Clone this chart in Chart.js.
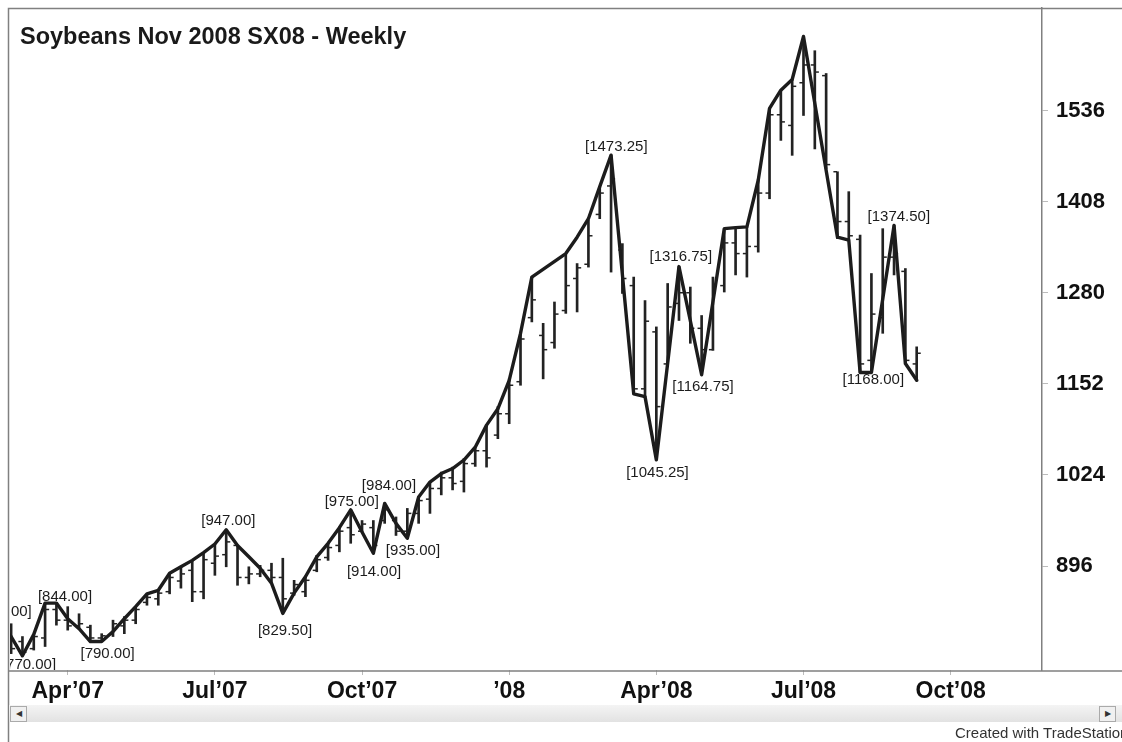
<!DOCTYPE html>
<html>
<head>
<meta charset="utf-8">
<script src="https://cdn.jsdelivr.net/npm/chart.js@4.4.1/dist/chart.umd.min.js"></script>
<style>
  html, body { margin: 0; padding: 0; background: #fff; }
  #wrap { position: relative; width: 1122px; height: 742px; overflow: hidden; font-family: "Liberation Sans", Arial, sans-serif; }
  #c { position: absolute; left: 0; top: 0; }
  #title { position: absolute; left: 20px; top: 23px; font-weight: bold; font-size: 23.5px; color: #1a1a1a; white-space: nowrap; }
  #scroll { position: absolute; left: 9px; right: 0; top: 705px; height: 17px; background: linear-gradient(#f4f4f4, #e2e2e2); }
  .btn { position: absolute; top: 1px; width: 15px; height: 14px; border: 1px solid #aaa; background: #f0f0f0; font-size: 8px; line-height: 14px; text-align: center; color: #333; }
  #credit { position: absolute; left: 955px; top: 724px; font-size: 15px; color: #333; white-space: nowrap; }
</style>
</head>
<body>
<div id="wrap">
  <canvas id="c" width="1122" height="742"></canvas>
  <div id="title">Soybeans Nov 2008 SX08 - Weekly</div>
  <div id="scroll"><div class="btn" style="left:1px">&#9664;</div><div class="btn" style="right:6px">&#9654;</div></div>
  <div id="credit">Created with TradeStation</div>
</div>
<script>
// weekly bars, week 0 = last week of Feb 2007
const barHigh = [813, 815, 797, 800, 844, 844, 839, 829, 813, 801, 820, 825, 839, 857, 862, 886, 895, 904, 915, 927, 947,
  925, 895, 897, 900, 907, 876, 881, 911, 928, 951, 975, 960, 960, 984, 965, 977, 993, 1014, 1028, 1035, 1047,
  1062, 1094, 1120, 1159, 1223, 1302, 1237, 1267, 1335, 1321, 1382, 1429, 1473.25, 1349, 1302, 1269, 1232, 1293,
  1316.75, 1288, 1248, 1302, 1370, 1370, 1372.5, 1438, 1539, 1564.5, 1579.5, 1640, 1620, 1588, 1450, 1422, 1361,
  1307, 1370, 1374.5, 1314, 1204];
const barLow = [790, 773, 770, 778, 783, 813, 806, 808, 790, 790, 797, 801, 815, 841, 841, 857, 865, 846, 850, 883, 895,
  869, 871, 881, 872, 829.5, 855, 853, 888, 904, 916, 928, 944, 914, 956, 939, 935, 956, 970, 996, 1003, 1000,
  1036, 1035, 1075, 1096, 1150, 1239, 1159, 1202, 1251, 1253, 1316, 1384, 1309, 1279, 1138, 1134, 1045.25, 1176,
  1241, 1209, 1164.75, 1199, 1281, 1305, 1302, 1337, 1412, 1494, 1473, 1529, 1482, 1454.5, 1356, 1354, 1168,
  1168, 1223, 1305, 1180.5, 1157];
const barOpen = [795, 808, 790, 780, 795, 835, 820, 812, 810, 795, 800, 812, 820, 845, 850, 860, 875, 890, 860, 900, 912,
  925, 880, 885, 890, 880, 858, 860, 890, 908, 925, 950, 945, 950, 960, 960, 945, 970, 990, 1005, 1020, 1015,
  1040, 1058, 1080, 1110, 1155, 1245, 1220, 1210, 1255, 1300, 1320, 1390, 1430, 1340, 1290, 1145, 1225, 1180,
  1265, 1280, 1230, 1200, 1290, 1350, 1335, 1345, 1420, 1530, 1515, 1575, 1600, 1585, 1450, 1380, 1355,
  1185, 1245, 1330, 1310, 1180];
const barClose = [805, 780, 775, 797, 835, 820, 812, 815, 795, 798, 815, 820, 835, 852, 858, 880, 885, 860, 905, 910, 930,
  880, 885, 890, 880, 850, 870, 876, 905, 922, 945, 940, 955, 925, 975, 945, 970, 988, 1005, 1020, 1012, 1040,
  1058, 1048, 1110, 1150, 1215, 1270, 1200, 1250, 1290, 1315, 1360, 1420, 1440, 1300, 1145, 1240, 1120, 1260,
  1280, 1230, 1200, 1290, 1350, 1335, 1345, 1420, 1530, 1520, 1570, 1600, 1590, 1460, 1380, 1360, 1180,
  1250, 1330, 1335, 1185, 1195];
const firstWeek = -1;

// swing line vertices
const lineWeeks = [-1, 0, 1, 2, 3, 4, 5, 6, 7, 8, 9, 10, 11, 12, 13, 14, 15, 16, 17, 18, 19, 20, 21, 22, 23, 24, 25, 26,
  27, 28, 29, 30, 31, 32, 33, 34, 35, 36, 37, 38, 39, 40, 41, 42, 43, 44, 45, 46, 49, 50, 51, 52, 53, 55, 56, 57,
  59, 61, 63, 64, 65, 66, 67, 68, 69, 70, 73, 74, 75, 76, 78, 79, 80];
const lineValues = [813, 797, 770, 800, 844, 844, 822, 808, 790, 790, 804, 822, 839, 857, 862, 886, 895, 904, 915, 927,
  947, 925, 909, 893, 872, 829.5, 858, 881, 909, 928, 950, 975, 944, 914, 984, 956, 935, 993, 1014, 1026, 1033,
  1045, 1063, 1094, 1117, 1157, 1223, 1302, 1335, 1358, 1384, 1429, 1473.25, 1138, 1134, 1045.25, 1316.75,
  1164.75, 1370, 1371.5, 1372.5, 1438, 1539, 1564.5, 1579.5, 1640, 1358, 1354, 1168, 1168, 1374.5, 1180.5, 1157];

// swing point labels (text centre)
const labelTexts = ['[812.00]', '[770.00]', '[844.00]', '[790.00]', '[947.00]', '[829.50]', '[975.00]', '[984.00]',
  '[914.00]', '[935.00]', '[1473.25]', '[1316.75]', '[1164.75]', '[1045.25]', '[1374.50]', '[1168.00]'];
const labelWeeks = [-0.57, 1.58, 4.76, 8.52, 19.19, 24.2, 30.09, 33.38, 32.06, 35.5, 53.46, 59.16, 61.12, 57.1, 78.42, 76.17];
const labelValues = [831.8, 757, 852.9, 772.4, 959.2, 804.7, 986.3, 1008.3, 888, 917.5, 1484.9, 1331, 1148.4, 1026.6, 1386.1, 1157.2];

const tickWeeks = [5, 18, 31, 44, 57, 70, 83];
const tickLabels = ['Apr\u201907', 'Jul\u201907', 'Oct\u201907', '\u201908', 'Apr\u201908', 'Jul\u201908', 'Oct\u201908'];
const priceTicks = [896, 1024, 1152, 1280, 1408, 1536];

const ink = '#1c1c1c';
const axisFont = { family: '"Liberation Sans", Arial, sans-serif', size: 22, weight: 'bold' };

const rangeData = barHigh.map((h, k) => ({ x: firstWeek + k, y: [barLow[k], h] }));
const openData = barOpen.map((v, k) => ({ x: firstWeek + k - 0.2, y: v }));
const closeData = barClose.map((v, k) => ({ x: firstWeek + k + 0.2, y: v }));
const swingData = lineWeeks.map((w, k) => ({ x: w, y: lineValues[k] }));

const frame = {
  id: 'frame',
  afterDatasetsDraw(chart) {
    const { ctx, chartArea: a, scales: { x, y } } = chart;
    ctx.save();
    ctx.beginPath();
    ctx.rect(a.left, a.top, a.right - a.left, a.bottom - a.top);
    ctx.clip();
    ctx.font = '15px "Liberation Sans", Arial, sans-serif';
    ctx.fillStyle = ink;
    ctx.textAlign = 'center';
    ctx.textBaseline = 'middle';
    labelTexts.forEach((t, k) => {
      ctx.fillText(t, x.getPixelForValue(labelWeeks[k]), y.getPixelForValue(labelValues[k]));
    });
    ctx.restore();

    ctx.save();
    ctx.strokeStyle = '#808080';
    ctx.lineWidth = 1.5;
    ctx.beginPath();
    ctx.moveTo(8.5, 742); ctx.lineTo(8.5, 8.5); ctx.lineTo(1122, 8.5);
    ctx.moveTo(8.5, a.bottom + 1); ctx.lineTo(1122, a.bottom + 1);
    ctx.stroke();
    ctx.restore();
  }
};

new Chart(document.getElementById('c'), {
  type: 'line',
  data: {
    datasets: [
      { type: 'line', data: swingData, borderColor: ink, borderWidth: 3.4, pointRadius: 0, tension: 0,
        borderJoinStyle: 'round', borderCapStyle: 'round', clip: 0, order: 0 },
      { type: 'bar', data: rangeData, backgroundColor: '#222', barThickness: 2, clip: 0, order: 1 },
      { type: 'scatter', data: openData, pointStyle: 'line', radius: 1.8, borderWidth: 1.5, borderColor: '#222', clip: 0, order: 2 },
      { type: 'scatter', data: closeData, pointStyle: 'line', radius: 1.8, borderWidth: 1.5, borderColor: '#222', clip: 0, order: 2 }
    ]
  },
  options: {
    responsive: false,
    animation: false,
    layout: { padding: { left: 10, top: 8, right: 0, bottom: 0 } },
    plugins: { legend: { display: false }, tooltip: { enabled: false } },
    scales: {
      x: {
        type: 'linear', position: 'bottom', min: -0.1, max: 91.07, offset: false,
        afterBuildTicks: (s) => { s.ticks = tickWeeks.map(v => ({ value: v })); },
        afterFit: (s) => { s.height = 72; s.paddingLeft = 0; s.paddingRight = 0; },
        ticks: { autoSkip: false, maxRotation: 0, padding: 3, color: '#111', font: { ...axisFont, size: 23 },
          callback: (v) => tickLabels[tickWeeks.indexOf(v)] },
        grid: { offset: false, drawOnChartArea: false, drawTicks: true, tickLength: 5, color: '#bbb' },
        border: { display: false }
      },
      y: {
        type: 'linear', position: 'right', min: 750, max: 1680,
        afterBuildTicks: (s) => { s.ticks = priceTicks.map(v => ({ value: v })); },
        afterFit: (s) => { s.width = 80; s.paddingTop = 0; s.paddingBottom = 0; },
        ticks: { padding: 8, color: '#111', font: axisFont, callback: (v) => String(v) },
        grid: { drawOnChartArea: false, drawTicks: true, tickLength: 6, color: '#bbb' },
        border: { display: true, color: '#808080', width: 1.5 }
      }
    }
  },
  plugins: [frame]
});
</script>
</body>
</html>
